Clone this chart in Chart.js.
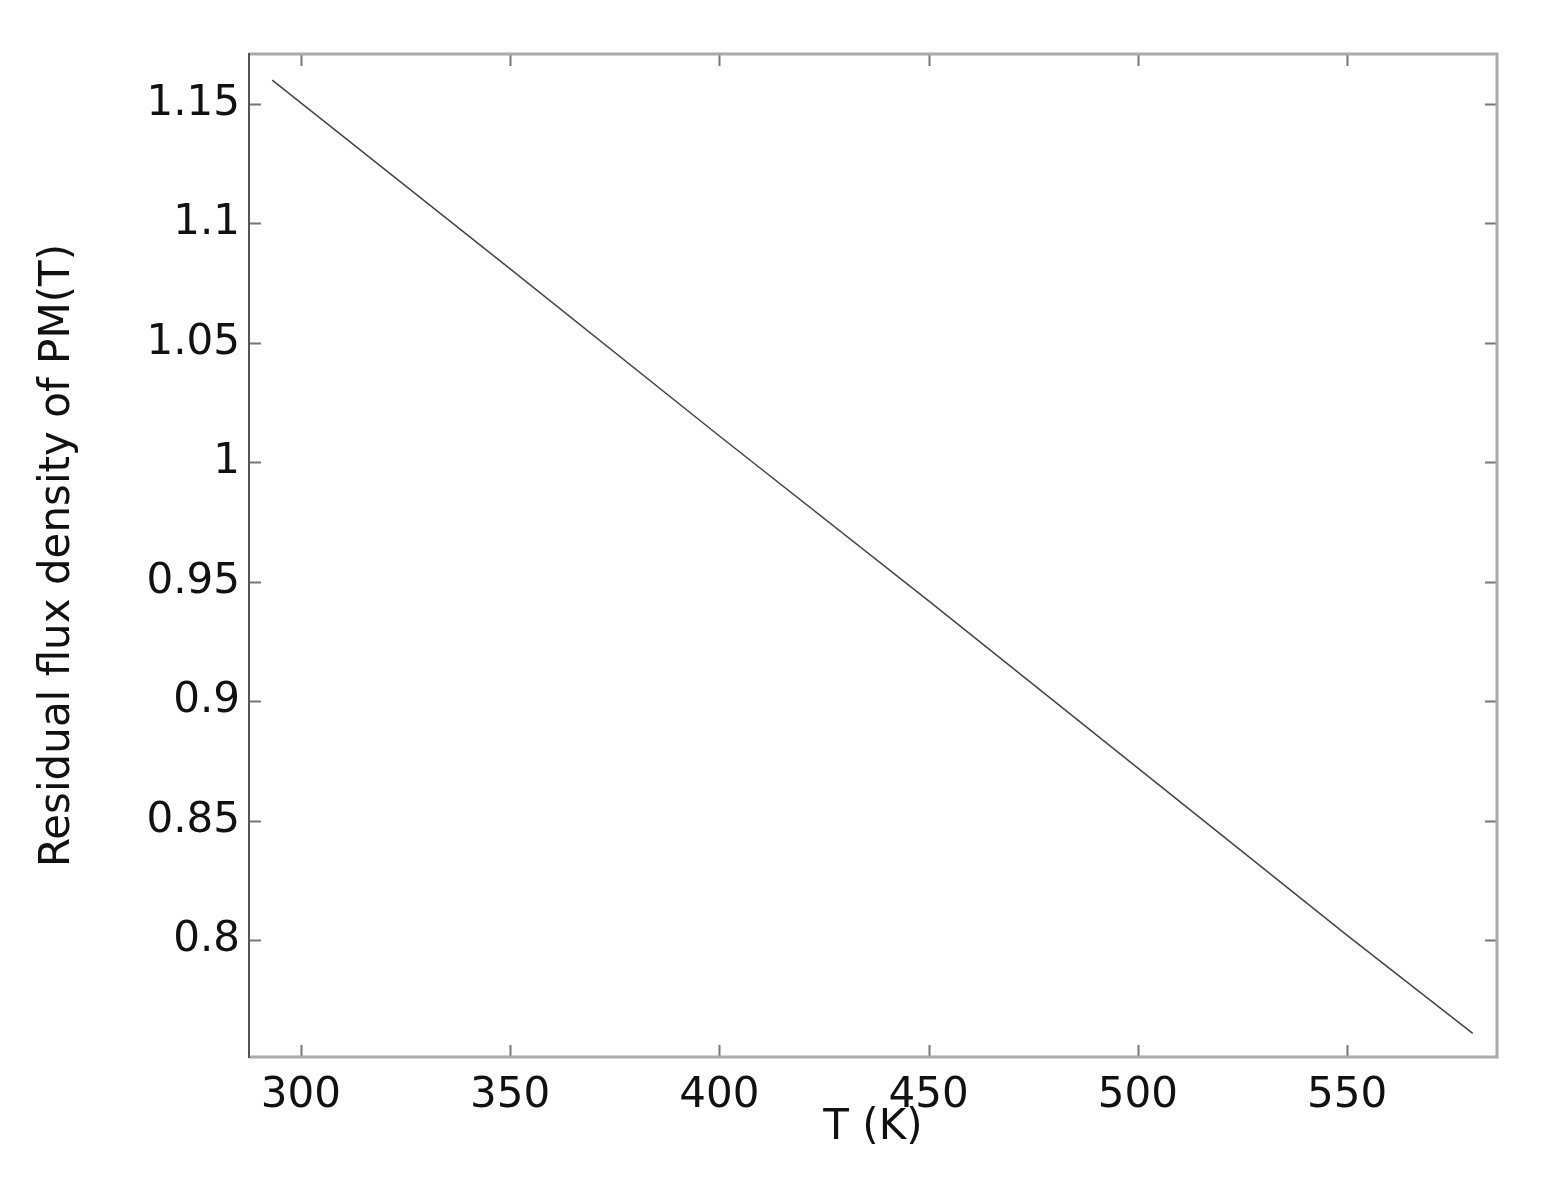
<!DOCTYPE html>
<html><head><meta charset="utf-8">
<style>html,body{margin:0;padding:0;background:#fff;}#wrap{width:1561px;height:1184px;}</style>
<script src="https://cdn.jsdelivr.net/npm/chart.js@4.4.0/dist/chart.umd.min.js"></script>
</head><body><div id="wrap"><canvas id="c" width="1561" height="1184"></canvas></div>
<script>
const temperatures = [293.15, 350, 400, 450, 500, 550, 580];
const fluxDensity = [1.16, 1.081, 1.011, 0.942, 0.872, 0.802, 0.761];
const xTickValues = [300, 350, 400, 450, 500, 550];
const xTickLabels = ['300', '350', '400', '450', '500', '550'];
const yTickValues = [0.8, 0.85, 0.9, 0.95, 1.0, 1.05, 1.1, 1.15];
const yTickLabels = ['0.8', '0.85', '0.9', '0.95', '1', '1.05', '1.1', '1.15'];
const xLabel = 'T (K)';
const yLabel = 'Residual flux density of PM(T)';

const AREA = {left: 249, right: 1497, top: 54, bottom: 1057};
const W = 1561, H = 1184;

const frame = {
  id: 'frame',
  afterDatasetsDraw(chart) {
    const ctx = chart.ctx, a = chart.chartArea;
    const xs = chart.scales.x, ys = chart.scales.y;
    ctx.save();
    ctx.strokeStyle = '#777'; ctx.lineWidth = 2;
    xTickValues.forEach(v => {
      const px = Math.round(xs.getPixelForValue(v)) + 0.5;
      ctx.beginPath(); ctx.moveTo(px, a.bottom); ctx.lineTo(px, a.bottom - 12);
      ctx.moveTo(px, a.top); ctx.lineTo(px, a.top + 12); ctx.stroke();
    });
    yTickValues.forEach(v => {
      const py = Math.round(ys.getPixelForValue(v)) + 0.5;
      ctx.beginPath(); ctx.moveTo(a.left, py); ctx.lineTo(a.left + 12, py);
      ctx.moveTo(a.right, py); ctx.lineTo(a.right - 12, py); ctx.stroke();
    });
    ctx.strokeStyle = '#aaa'; ctx.lineWidth = 3;
    ctx.beginPath();
    ctx.moveTo(a.left, a.top); ctx.lineTo(a.right, a.top); ctx.lineTo(a.right, a.bottom); ctx.lineTo(a.left, a.bottom);
    ctx.stroke();
    ctx.strokeStyle = '#555'; ctx.lineWidth = 2;
    ctx.beginPath(); ctx.moveTo(a.left, a.top - 1); ctx.lineTo(a.left, a.bottom + 1); ctx.stroke();
    ctx.restore();
  }
};

new Chart(document.getElementById('c'), {
  type: 'scatter',
  data: {
    datasets: [{
      data: temperatures.map((t, i) => ({x: t, y: fluxDensity[i]})),
      showLine: true, borderColor: '#444', borderWidth: 1.5,
      pointRadius: 0, fill: false, tension: 0
    }]
  },
  options: {
    responsive: false, animation: false,
    layout: {padding: {left: 0, right: W - AREA.right, top: AREA.top, bottom: 0}},
    plugins: {legend: {display: false}, tooltip: {enabled: false}},
    scales: {
      x: {
        type: 'linear', min: 287.6, max: 585.8,
        afterBuildTicks: s => { s.ticks = xTickValues.map(v => ({value: v})); },
        afterFit: s => { s.height = H - AREA.bottom; },
        grid: {display: false, drawTicks: false},
        border: {display: false},
        ticks: {padding: 14, color: '#111', font: {family: 'DejaVu Sans', size: 42},
          callback: (v) => xTickLabels[xTickValues.indexOf(v)] ?? ''},
        title: {display: true, text: xLabel, color: '#111', padding: {top: 0, bottom: 31},
          font: {family: 'DejaVu Sans', size: 42}}
      },
      y: {
        type: 'linear', min: 0.7511, max: 1.1709,
        afterBuildTicks: s => { s.ticks = yTickValues.map(v => ({value: v})); },
        afterFit: s => { s.width = AREA.left; },
        grid: {display: false, drawTicks: false},
        border: {display: false},
        ticks: {padding: 9, color: '#111', font: {family: 'DejaVu Sans', size: 42},
          callback: (v) => { const i = yTickValues.findIndex(t => Math.abs(t - v) < 1e-9); return i >= 0 ? yTickLabels[i] : ''; }},
        title: {display: true, text: yLabel, color: '#111', padding: {top: 33, bottom: 0},
          font: {family: 'DejaVu Sans', size: 42}}
      }
    }
  },
  plugins: [frame]
});
</script></body></html>
